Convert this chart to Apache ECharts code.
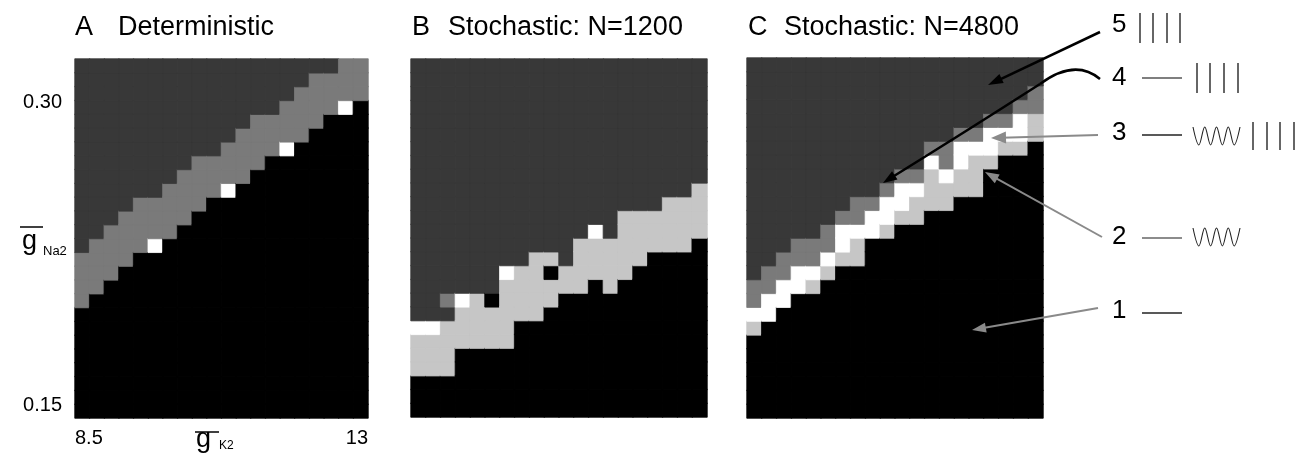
<!DOCTYPE html>
<html><head><meta charset="utf-8">
<script src="https://cdn.jsdelivr.net/npm/echarts@6/dist/echarts.min.js"></script>
<style>html,body{margin:0;padding:0;background:#fff}#c{width:1305px;height:459px}</style>
</head><body><div id="c"></div>
<script>
// parameter grid (categories)
const gK2 = ['8.50','8.74','8.97','9.21','9.45','9.68','9.92','10.16','10.39','10.63','10.87','11.11','11.34','11.58','11.82','12.05','12.29','12.53','12.76','13.00'];
const gNa2 = ['0.150','0.156','0.162','0.168','0.174','0.180','0.186','0.192','0.198','0.204','0.210','0.216','0.222','0.228','0.234','0.240','0.246','0.252','0.258','0.264','0.270','0.276','0.282','0.288','0.294','0.300'];
const xTicks = [8.5, 13];
const yTicks = [0.15, 0.30];
const titles = [['A','Deterministic'],['B','Stochastic: N=1200'],['C','Stochastic: N=4800']];
const legendLabels = ['1','2','3','4','5'];
// regime levels: 1 rest, 2 rest+oscillation, 3 rest+oscillation+firing, 4 rest+firing, 5 firing
const levelColors = {1:'#000000',2:'#c6c6c6',3:'#ffffff',4:'#7a7a7a',5:'#383838'};
// each column (left->right): runs bottom->top as [level,count,...]; rows above are level 5
const panelA = [
 [1,8,4,4],[1,9,4,4],[1,10,4,4],[1,11,4,4],[1,12,4,4],
 [1,12,3,1,4,3],[1,13,4,4],[1,14,4,4],[1,15,4,4],[1,16,4,3],
 [1,16,3,1,4,3],[1,17,4,4],[1,18,4,4],[1,19,4,3],[1,19,3,1,4,3],
 [1,20,4,4],[1,21,4,4],[1,22,4,3],[1,22,3,1,4,3],[1,23,4,3]
];
const panelB = [
 [1,3,2,3,3,1],[1,3,2,3,3,1],[1,3,2,4,5,1,4,1],[1,5,2,3,3,1],[1,5,2,4],
 [1,5,2,3,1,1],[1,5,2,5,3,1],[1,7,2,4],[1,7,2,5],[1,8,2,2,1,1,2,1],
 [1,9,2,2],[1,9,2,4],[1,10,2,3,3,1],[1,9,2,4],[1,10,2,5],
 [1,11,2,4],[1,12,2,3],[1,12,2,4],[1,12,2,4],[1,13,2,4]
];
const panelC = [
 [1,6,2,1,3,1,4,2],[1,7,3,2,4,2],[1,8,3,2,4,2],[1,9,3,2,4,2],[1,9,2,1,3,1,4,2],
 [1,10,2,1,3,1,4,2],[1,11,2,1,3,2,4,1],[1,11,2,2,3,1,4,2],[1,13,3,2,4,1],[1,13,2,1,3,2,4,1],
 [1,14,2,1,3,2,4,1],[1,14,2,2,3,1,4,1],[1,15,2,3,3,1,4,1],[1,15,2,2,3,1,4,2],[1,16,2,2,3,2,4,1],
 [1,16,2,3,3,1,4,1],[1,18,2,1,3,2,4,1],[1,19,2,1,3,1,4,1],[1,19,2,1,3,2,4,1],[1,20,2,2,4,2]
];

function toCells(cols){
  const out=[];
  const push=(c,r,v)=>out.push({value:[c,r,v],itemStyle:{color:levelColors[v],borderColor:levelColors[v],borderWidth:0.8}});
  cols.forEach((runs,c)=>{
    let r=0;
    for(let i=0;i<runs.length;i+=2){ for(let k=0;k<runs[i+1];k++){ push(c,r,runs[i]); r++; } }
    while(r<gNa2.length){ push(c,r,5); r++; }
  });
  return out;
}

const FONT='Liberation Sans, Arial, Helvetica, sans-serif';
const grids=[{left:75,top:59,width:293,height:359},{left:411,top:59,width:296,height:358},{left:747,top:58,width:296,height:360}];
const chart=echarts.init(document.getElementById('c'),null,{renderer:'canvas'});

const xAxes=grids.map((g,i)=>({type:'category',gridIndex:i,data:gK2,show:false}));
const yAxes=grids.map((g,i)=>({type:'category',gridIndex:i,data:gNa2,show:false}));
xAxes.push({type:'value',gridIndex:0,min:8.5,max:13,position:'bottom',axisLine:{show:false},axisTick:{show:false},splitLine:{show:false},
  axisLabel:{customValues:xTicks,formatter:v=>String(v),fontSize:20,color:'#000',fontFamily:FONT,margin:10,alignMinLabel:'left',alignMaxLabel:'right'}});
yAxes.push({type:'value',gridIndex:0,min:0.1436,max:0.3213,position:'left',axisLine:{show:false},axisTick:{show:false},splitLine:{show:false},
  axisLabel:{customValues:yTicks,formatter:v=>v.toFixed(2),fontSize:20,color:'#000',fontFamily:FONT,margin:13}});

const titleLeft=[[75,118],[412,448],[748,784]];
const title=[];
titles.forEach((t,i)=>{
  title.push({text:t[0],left:titleLeft[i][0],top:14,padding:0,textStyle:{fontSize:27,fontWeight:'normal',fontFamily:FONT,color:'#000'}});
  title.push({text:t[1],left:titleLeft[i][1],top:14,padding:0,textStyle:{fontSize:27,fontWeight:'normal',fontFamily:FONT,color:'#000'}});
});

const series=[panelA,panelB,panelC].map((p,i)=>({type:'heatmap',xAxisIndex:i,yAxisIndex:i,data:toCells(p),emphasis:{disabled:true},progressive:0,animation:false}));

// annotation graphics
const G=[];
function txt(x,y,s,size){ G.push({type:'text',z:100,x:x,y:y,style:{text:s,fontSize:size,fontFamily:FONT,fill:'#000',textVerticalAlign:'middle'}}); }
function line(x1,y1,x2,y2,w,col){ G.push({type:'line',z:100,shape:{x1,y1,x2,y2},style:{stroke:col,lineWidth:w}}); }
function head(tx,ty,fx,fy,L,W,col){
  const dx=tx-fx,dy=ty-fy,len=Math.hypot(dx,dy),ux=dx/len,uy=dy/len,nx=-uy,ny=ux;
  G.push({type:'polygon',z:101,shape:{points:[[tx,ty],[tx-L*ux+W*nx,ty-L*uy+W*ny],[tx-L*ux-W*nx,ty-L*uy-W*ny]]},style:{fill:col}});
}
function arrow(x1,y1,x2,y2,w,col,L,W){
  const dx=x2-x1,dy=y2-y1,len=Math.hypot(dx,dy);
  line(x1,y1,x2-dx/len*L*0.7,y2-dy/len*L*0.7,w,col);
  head(x2,y2,x1,y1,L,W,col);
}
function wave(x0,yc,w,a,n){
  const hw=w/(2*n); const pts=[[x0,yc-a]];
  for(let i=0;i<2*n;i++){ pts.push([x0+(i+1)*hw, (i%2===0)?yc+a:yc-a]); }
  G.push({type:'polyline',z:100,shape:{points:pts,smooth:0.35},style:{stroke:'#222',lineWidth:1.1,fill:null}});
}
function bars(xs,y1,y2){ xs.forEach(x=>line(x,y1,x,y2,1.5,'#333')); }

// axis names: g-bar K2 and g-bar Na2
txt(196,440,'g',27); line(195,432,219,432,1.5,'#000'); txt(219,446,'K2',12);
txt(22,242,'g',27); line(20,227,43,227,1.5,'#000'); txt(43,251,'Na2',13);

// legend labels on right
const ly={5:25,4:78,3:133,2:237,1:311};
legendLabels.forEach(k=>txt(1112,ly[k],k,26));
bars([1140,1153,1167,1180],13,43);
line(1142,78,1182,78,1.5,'#555'); bars([1197,1210,1224,1238],63,93);
line(1142,135,1182,135,1.5,'#222'); wave(1193,136,47,9,4); bars([1253,1267,1280,1294],122,150);
line(1142,238,1182,238,1.5,'#666'); wave(1193,237,47,9,4);
line(1142,313,1182,313,1.5,'#222');

// arrows
arrow(1100,32,988,85,2.5,'#000',15,5);
G.push({type:'bezierCurve',z:100,shape:{x1:1100,y1:79,cpx1:1075,cpy1:58,x2:1040,y2:84},style:{stroke:'#000',lineWidth:2.5,fill:null}});
G.push({type:'bezierCurve',z:100,shape:{x1:1040,y1:84,cpx1:965,cpy1:132,x2:894,y2:176},style:{stroke:'#000',lineWidth:2.5,fill:null}});
head(883,183,900,172,14,5,'#000');
arrow(1098,135,991,138,2,'#8a8a8a',15,6);
arrow(1102,237,985,172,2,'#8a8a8a',14,5);
arrow(1098,308,972,330,2,'#8a8a8a',14,5);

chart.setOption({
  animation:false,
  backgroundColor:'#fff',
  title:title,
  grid:grids,
  xAxis:xAxes,
  yAxis:yAxes,
  series:series,
  graphic:{elements:G}
});
</script></body></html>
